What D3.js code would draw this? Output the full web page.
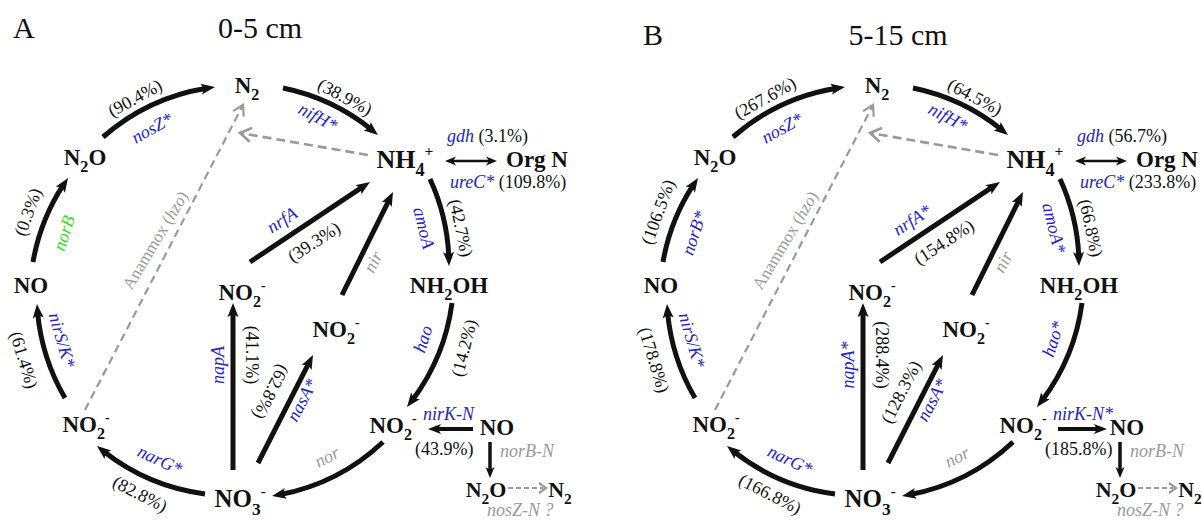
<!DOCTYPE html>
<html><head><meta charset="utf-8">
<script src="https://cdn.jsdelivr.net/npm/d3@7"></script>
<style>body{margin:0;background:#fff}</style>
</head><body>
<svg id="chart" width="1202" height="520"></svg>
<script>
// ---------------- DATA ----------------
const panelLetters = ["A", "B"];
const depthLabels = ["0-5 cm", "5-15 cm"];
// compounds (nodes) of the cycle
const nodeLabels = ["N2", "N2O", "NO", "NO2-", "NO3-", "NO2-", "NO2-", "NH2OH", "NO2-", "NO", "N2O", "N2", "NH4+", "Org N"];
// genes, in pathway order
const genesA = ["nosZ*", "nifH*", "amoA", "hao", "nor", "narG*", "nirS/K*", "norB", "napA", "nasA*", "nir", "nrfA", "gdh", "ureC*", "nirK-N", "norB-N", "nosZ-N ?"];
const genesB = ["nosZ*", "nifH*", "amoA*", "hao*", "nor", "narG*", "nirS/K*", "norB*", "napA*", "nasA*", "nir", "nrfA*", "gdh", "ureC*", "nirK-N*", "norB-N", "nosZ-N ?"];
// percentage change per gene (null = not shown)
const pctA = [90.4, 38.9, 42.7, 14.2, null, 82.8, 61.4, 0.3, 41.1, 62.8, null, 39.3, 3.1, 109.8, 43.9, null, null];
const pctB = [267.6, 64.5, 66.8, null, null, 166.8, 178.8, 106.5, 288.4, 128.3, null, 154.8, 56.7, 233.8, 185.8, null, null];
const greyGenes = ["nor", "nir", "norB-N", "nosZ-N ?"];
const greenGenesA = ["norB"];
const greenGenesB = [];
// direction of the nirK-N step
const nirkFromA = "NO";
const nirkFromB = "NO2-";
const anammoxLabel = ["Anammox (", "hzo", ")"];

// ---------------- LAYOUT ----------------
const BLUE = "#2424c8", GREY = "#9a9a9a", GREEN = "#33dd22", INK = "#111";
const FONT = "'Liberation Serif','Times New Roman',serif";
const R = 207;
const panelOffsets = [[0, 0], [630, 0]];
const titleY = [38, 45];

const nodePos = [
  [247, 93, 23], [85, 165, 23], [31, 293, 23], [86, 432, 23], [240, 507, 25], [242, 300, 23],
  [336, 337, 23], [449, 293, 23], [393, 433, 23], [497, 435, 23], [486, 497, 22], [560, 497, 22],
  [405, 168, 26], [537, 167, 23]
];

const edgeLayout = [
  {type: "arc",  p1: [103, 137], p2: [215, 87],  gene: [152, 128, -29], pct: [135, 98, -29]},
  {type: "arc",  p1: [283, 88],  p2: [378, 135], gene: [318, 117, 28],  pct: [345, 97, 28]},
  {type: "arc",  p1: [430, 179], p2: [449, 266], gene: [424, 228, 76],  pct: [461, 228, 78]},
  {type: "arc",  p1: [452, 303], p2: [407, 407], gene: [423, 339, -72], pct: [464, 348, -76]},
  {type: "arc",  p1: [383, 442], p2: [272, 496], gene: [327, 457, -27]},
  {type: "arc",  p1: [205, 494], p2: [97, 446],  gene: [160, 460, 25],  pct: [140, 494, 27]},
  {type: "arc",  p1: [65, 398],  p2: [37, 304],  gene: [62, 340, 74],   pct: [24, 360, 73]},
  {type: "arc",  p1: [33, 262],  p2: [68, 178],  gene: [64, 233, -72],  pct: [28, 212, -70]},
  {type: "line", p1: [233, 470], p2: [233, 303], gene: [218, 365, -90], pct: [252, 355, 90]},
  {type: "line", p1: [258, 463], p2: [313, 355], gene: [302, 400, -62], pct: [271, 392, 117], pctRotB: -63},
  {type: "line", p1: [342, 295], p2: [393, 192], gene: [373, 262, -63]},
  {type: "line", p1: [250, 262], p2: [370, 182], gene: [282, 220, -33], pct: [314, 242, -33]},
  {type: "double", p1: [445, 161], p2: [497, 161], inline: [447, 142]},
  {type: "none", inline: [450, 188]},
  {type: "nirk", pA: [473, 429], pB: [428, 429], gene: [423, 420], pctStart: [415, 455]},
  {type: "line", p1: [490, 442], p2: [490, 478], inline: [500, 457], w: 3.5, len: 11, hw: 9},
  {type: "dashed", p1: [508, 488], p2: [546, 488], inline: [487, 516]}
];
const ammoniumToN2 = {p1: [368, 155], p2: [240, 133]};
const anammoxArrow = {p1: [85, 410], p2: [243, 105], label: [155, 240, -59]};

// ---------------- DRAW ----------------
const svg = d3.select("#chart");
const fmt = v => "(" + d3.format(".1f")(v) + "%)";

function formula(sel, s) {
  let i = 0;
  const parts = [];
  while (i < s.length) {
    const ch = s[i];
    let kind;
    if (/[0-9]/.test(ch)) kind = "sub";
    else if ((ch === "+" || ch === "-") && i === s.length - 1) kind = "sup";
    else kind = "n";
    if (parts.length && parts[parts.length - 1].kind === kind) parts[parts.length - 1].t += ch;
    else parts.push({kind, t: ch});
    i++;
  }
  let shift = 0;
  const em = parseFloat(sel.attr("font-size"));
  parts.forEach(p => {
    const ts = sel.append("tspan").text(p.t);
    let target = 0;
    if (p.kind === "sub") { ts.attr("font-size", "70%"); target = 0.3; }
    if (p.kind === "sup") { ts.attr("font-size", "60%"); target = -0.45; }
    const dy = (target - shift) * em;
    if (dy !== 0) ts.attr("dy", dy.toFixed(2));
    shift = target;
  });
}

function head(g, tip, base, hw, color) {
  const ux = tip[0] - base[0], uy = tip[1] - base[1];
  const L = Math.hypot(ux, uy), nx = -uy / L, ny = ux / L;
  g.append("path")
    .attr("d", d3.line()([tip, [base[0] + nx * hw / 2, base[1] + ny * hw / 2],
                          [base[0] + ux / L * 3, base[1] + uy / L * 3],
                          [base[0] - nx * hw / 2, base[1] - ny * hw / 2]]) + "Z")
    .attr("fill", color);
}

function arcArrow(g, p1, p2, w, len, hw) {
  const dx = p2[0] - p1[0], dy = p2[1] - p1[1], c = Math.hypot(dx, dy);
  const h = Math.sqrt(Math.max(R * R - c * c / 4, 0));
  const cx = (p1[0] + p2[0]) / 2 - h * dy / c, cy = (p1[1] + p2[1]) / 2 + h * dx / c;
  const t2 = Math.atan2(p2[1] - cy, p2[0] - cx);
  const at = t => [cx + R * Math.cos(t), cy + R * Math.sin(t)];
  const base = at(t2 - len / R), end = at(t2 - len * 0.6 / R);
  g.append("path")
    .attr("d", `M${p1[0]},${p1[1]} A${R},${R} 0 0 1 ${end[0]},${end[1]}`)
    .attr("fill", "none").attr("stroke", INK).attr("stroke-width", w);
  head(g, p2, base, hw, INK);
}

function lineArrow(g, p1, p2, w, len, hw, both) {
  const dx = p2[0] - p1[0], dy = p2[1] - p1[1], L = Math.hypot(dx, dy);
  const ux = dx / L, uy = dy / L;
  const s = both ? [p1[0] + ux * len * 0.6, p1[1] + uy * len * 0.6] : p1;
  g.append("line").attr("x1", s[0]).attr("y1", s[1])
    .attr("x2", p2[0] - ux * len * 0.6).attr("y2", p2[1] - uy * len * 0.6)
    .attr("stroke", INK).attr("stroke-width", w);
  head(g, p2, [p2[0] - ux * len, p2[1] - uy * len], hw, INK);
  if (both) head(g, p1, [p1[0] + ux * len, p1[1] + uy * len], hw, INK);
}

function dashedArrow(g, p1, p2, w, dash, len, hw) {
  const dx = p2[0] - p1[0], dy = p2[1] - p1[1], L = Math.hypot(dx, dy);
  const ux = dx / L, uy = dy / L, nx = -uy, ny = ux;
  g.append("line").attr("x1", p1[0]).attr("y1", p1[1])
    .attr("x2", p2[0] - ux * 2).attr("y2", p2[1] - uy * 2)
    .attr("stroke", GREY).attr("stroke-width", w).attr("stroke-dasharray", dash);
  const b = [p2[0] - ux * len, p2[1] - uy * len];
  g.append("path")
    .attr("d", d3.line()([[b[0] + nx * hw / 2, b[1] + ny * hw / 2], p2, [b[0] - nx * hw / 2, b[1] - ny * hw / 2]]))
    .attr("fill", "none").attr("stroke", GREY).attr("stroke-width", w).attr("stroke-linejoin", "miter");
}

function rotText(g, pos, txt, color, italic, size) {
  return g.append("text")
    .attr("transform", `translate(${pos[0]},${pos[1]}) rotate(${pos[2]})`)
    .attr("text-anchor", "middle").attr("dominant-baseline", "central")
    .attr("font-family", FONT).attr("font-size", size || 18)
    .attr("font-style", italic ? "italic" : "normal")
    .attr("fill", color).text(txt);
}

panelLetters.forEach((letter, pi) => {
  const genes = pi === 0 ? genesA : genesB;
  const pcts = pi === 0 ? pctA : pctB;
  const greens = pi === 0 ? greenGenesA : greenGenesB;
  const nirkFrom = pi === 0 ? nirkFromA : nirkFromB;
  const [ox, oy] = panelOffsets[pi];
  const g = svg.append("g").attr("transform", `translate(${ox},${oy})`);

  // titles
  svg.append("text").attr("x", 13 + ox).attr("y", titleY[pi])
    .attr("font-family", FONT).attr("font-size", 30).attr("fill", INK).text(letter);
  svg.append("text").attr("x", 260 + ox + (pi ? 8 : 0)).attr("y", titleY[pi]).attr("text-anchor", "middle")
    .attr("font-family", FONT).attr("font-size", 30).attr("fill", INK).text(depthLabels[pi]);

  const geneColor = name => greyGenes.includes(name) ? GREY : (greens.includes(name) ? GREEN : BLUE);

  // grey dashed links
  dashedArrow(g, ammoniumToN2.p1, ammoniumToN2.p2, 2.6, "9,5", 11, 14);
  dashedArrow(g, anammoxArrow.p1, anammoxArrow.p2, 2.2, "8,5", 10, 12);
  const an = g.append("text")
    .attr("transform", `translate(${anammoxArrow.label[0]},${anammoxArrow.label[1]}) rotate(${anammoxArrow.label[2]})`)
    .attr("text-anchor", "middle").attr("dominant-baseline", "central")
    .attr("font-family", FONT).attr("font-size", 17).attr("fill", GREY);
  an.append("tspan").text(anammoxLabel[0]);
  an.append("tspan").attr("font-style", "italic").text(anammoxLabel[1]);
  an.append("tspan").text(anammoxLabel[2]);

  edgeLayout.forEach((e, i) => {
    const gene = genes[i], pct = pcts[i];
    if (e.type === "arc") arcArrow(g, e.p1, e.p2, 5, 14, 11);
    if (e.type === "line") lineArrow(g, e.p1, e.p2, e.w || 5, e.len || 14, e.hw || 11, false);
    if (e.type === "double") lineArrow(g, e.p1, e.p2, 2.6, 11, 9, true);
    if (e.type === "dashed") {
      g.append("line").attr("x1", e.p1[0]).attr("y1", e.p1[1]).attr("x2", e.p2[0] - 3).attr("y2", e.p2[1])
        .attr("stroke", GREY).attr("stroke-width", 2.2).attr("stroke-dasharray", "5,3");
      g.append("path").attr("d", d3.line()([[e.p2[0] - 7, e.p2[1] - 5], e.p2, [e.p2[0] - 7, e.p2[1] + 5]]))
        .attr("fill", "none").attr("stroke", GREY).attr("stroke-width", 2.2);
    }
    if (e.type === "nirk") {
      const fwd = nirkFrom === "NO";
      const a = fwd ? e.pA : [e.pB[0], e.pB[1]];
      const b = fwd ? e.pB : [e.pA[0] + 4, e.pA[1]];
      lineArrow(g, a, b, 4, 13, 10, false);
      g.append("text").attr("x", e.gene[0]).attr("y", e.gene[1])
        .attr("font-family", FONT).attr("font-size", 18).attr("font-style", "italic")
        .attr("fill", geneColor(gene)).text(gene);
      if (pct != null) g.append("text").attr("x", e.pctStart[0]).attr("y", e.pctStart[1])
        .attr("font-family", FONT).attr("font-size", 18).attr("fill", INK).text(fmt(pct));
      return;
    }
    if (e.gene) rotText(g, e.gene, gene, geneColor(gene), true, 18);
    if (e.pct && pct != null) {
      const pos = (pi === 1 && e.pctRotB != null) ? [e.pct[0], e.pct[1], e.pctRotB] : e.pct;
      rotText(g, pos, fmt(pct), INK, false, 18);
    }
    if (e.inline) {
      const t = g.append("text").attr("x", e.inline[0]).attr("y", e.inline[1])
        .attr("font-family", FONT).attr("font-size", 18);
      t.append("tspan").attr("font-style", "italic").attr("fill", geneColor(gene)).text(gene);
      if (pct != null) t.append("tspan").attr("fill", INK).text(" " + fmt(pct));
    }
  });

  // nodes
  nodeLabels.forEach((lab, i) => {
    const [x, y, fs] = nodePos[i];
    const t = g.append("text").attr("x", x).attr("y", y).attr("text-anchor", "middle")
      .attr("font-family", FONT).attr("font-weight", "bold").attr("font-size", fs).attr("fill", INK);
    if (lab === "Org N") t.text(lab); else formula(t, lab);
  });
});
</script>
</body></html>
